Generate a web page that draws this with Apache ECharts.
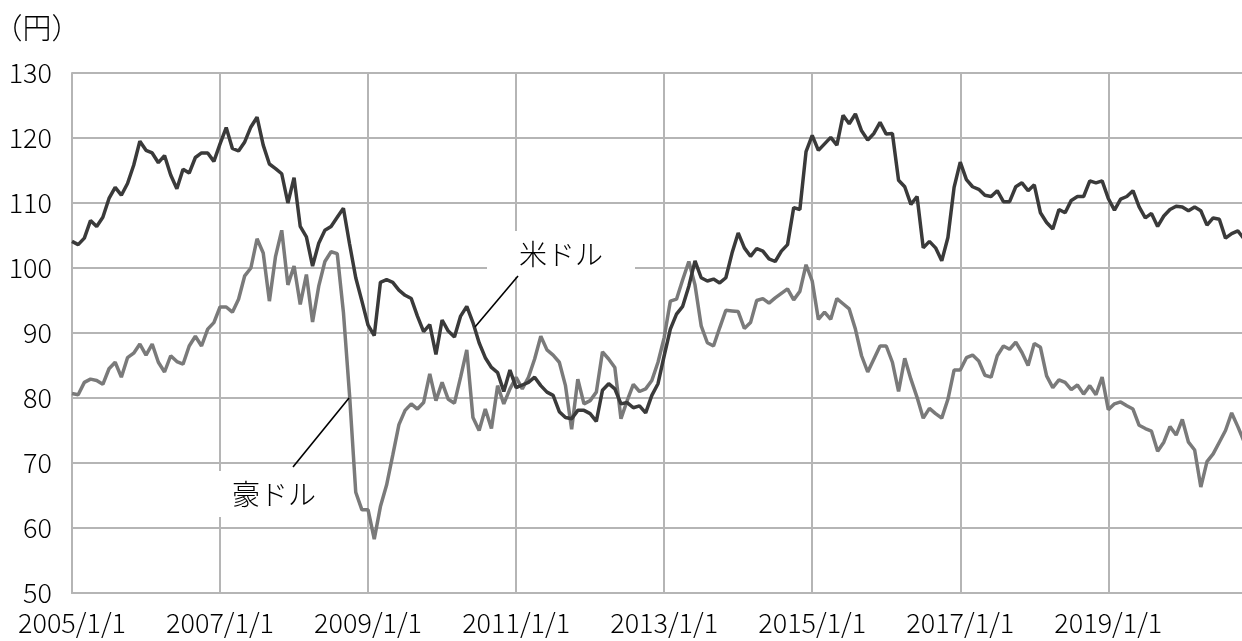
<!DOCTYPE html>
<html>
<head>
<meta charset="utf-8">
<script src="https://cdn.jsdelivr.net/npm/echarts@6/dist/echarts.min.js"></script>
<style>
  html, body { margin: 0; padding: 0; background: #fff; }
  #chart { width: 1242px; height: 641px; }
</style>
</head>
<body>
<div id="chart"></div>
<script>
// 月初値 2005/1 - 2020/11（円）
const usd = [
  104.1, 103.6, 104.6, 107.3, 106.4, 107.8, 110.7, 112.4, 111.2, 113.0, 115.8, 119.5,
  118.1, 117.7, 116.2, 117.3, 114.3, 112.2, 115.2, 114.6, 117.0, 117.7, 117.7, 116.4,
  119.1, 121.6, 118.4, 118.0, 119.4, 121.7, 123.2, 118.9, 116.0, 115.3, 114.5, 110.0,
  113.9, 106.4, 104.8, 100.3, 103.8, 105.8, 106.4, 107.8, 109.2, 103.7, 98.5, 94.9,
  91.2, 89.6, 97.8, 98.2, 97.8, 96.6, 95.8, 95.3, 92.6, 90.2, 91.3, 86.7,
  92.0, 90.3, 89.4, 92.6, 94.1, 91.6, 88.5, 86.2, 84.7, 83.9, 81.0, 84.3,
  81.6, 82.0, 82.4, 83.2, 81.9, 80.9, 80.4, 77.9, 77.0, 76.8, 78.1, 78.1,
  77.6, 76.4, 81.2, 82.2, 81.4, 79.1, 79.3, 78.5, 78.8, 77.7, 80.4, 82.2,
  86.5, 90.6, 92.9, 94.1, 97.2, 101.1, 98.5, 98.0, 98.3, 97.7, 98.5, 102.3,
  105.4, 103.1, 101.8, 103.0, 102.6, 101.4, 101.0, 102.6, 103.6, 109.3, 109.0, 117.9,
  120.4, 118.1, 119.1, 120.1, 118.9, 123.5, 122.2, 123.7, 121.1, 119.7, 120.7, 122.4,
  120.6, 120.7, 113.5, 112.5, 109.8, 111.0, 103.1, 104.1, 103.1, 101.1, 104.7, 112.4,
  116.3, 113.6, 112.5, 112.1, 111.2, 111.0, 111.9, 110.2, 110.2, 112.5, 113.1, 111.9,
  112.8, 108.5, 107.0, 106.0, 109.0, 108.5, 110.4, 111.0, 111.0, 113.4, 113.1, 113.4,
  110.7, 108.9, 110.6, 111.0, 111.9, 109.4, 107.7, 108.4, 106.4, 108.0, 109.0, 109.5,
  109.4, 108.8, 109.4, 108.8, 106.6, 107.7, 107.5, 104.6, 105.3, 105.7, 104.5
]
const aud = [
  80.7, 80.5, 82.4, 82.9, 82.7, 82.1, 84.5, 85.5, 83.2, 86.2, 86.9, 88.3,
  86.6, 88.3, 85.5, 84.0, 86.5, 85.6, 85.2, 88.0, 89.5, 88.0, 90.6, 91.6,
  94.0, 94.0, 93.2, 95.2, 98.8, 100.0, 104.5, 102.3, 94.9, 101.8, 105.8, 97.4,
  100.3, 94.4, 99.0, 91.7, 97.2, 101.0, 102.5, 102.2, 93.2, 80.4, 65.5, 62.8,
  62.8, 58.3, 63.3, 66.6, 71.2, 75.9, 78.1, 79.1, 78.3, 79.3, 83.7, 79.6,
  82.4, 79.8, 79.2, 83.2, 87.4, 77.0, 75.0, 78.3, 75.3, 81.9, 79.1, 81.4,
  83.2, 81.4, 83.2, 86.0, 89.5, 87.4, 86.6, 85.5, 81.9, 75.2, 82.9, 79.1,
  79.6, 80.9, 87.1, 86.0, 84.7, 76.8, 79.6, 82.1, 81.0, 81.4, 82.7, 85.5,
  89.3, 94.9, 95.2, 98.2, 101.0, 97.4, 91.1, 88.5, 88.0, 90.8, 93.5, 93.4,
  93.3, 90.7, 91.6, 95.0, 95.3, 94.6, 95.4, 96.1, 96.8, 95.1, 96.4, 100.5,
  98.0, 92.1, 93.2, 92.1, 95.3, 94.5, 93.7, 90.6, 86.5, 84.0, 86.0, 88.0,
  88.0, 85.5, 81.0, 86.1, 82.9, 80.1, 76.9, 78.4, 77.6, 76.9, 79.8, 84.3,
  84.3, 86.2, 86.6, 85.7, 83.5, 83.2, 86.5, 88.0, 87.5, 88.6, 87.0, 85.0,
  88.4, 87.8, 83.4, 81.6, 82.8, 82.4, 81.3, 82.0, 80.6, 81.9, 80.5, 83.2,
  78.2, 79.1, 79.4, 78.8, 78.3, 75.8, 75.3, 74.9, 71.8, 73.2, 75.6, 74.3,
  76.7, 73.2, 72.0, 66.3, 70.2, 71.4, 73.2, 75.0, 77.7, 75.6, 73.3
]
const yTicks = { min: 50, max: 130, step: 10 }
const legend = ['米ドル', '豪ドル']

// カテゴリ（日付）
const months = []
for (let i = 0; i < usd.length; i++) {
  const y = 2005 + Math.floor(i / 12)
  const m = (i % 12) + 1
  months.push(y + '/' + m + '/1')
}

const font = '"Noto Sans CJK JP", "Noto Sans", sans-serif'
const gridColor = '#b5b5b5'

const chart = echarts.init(document.getElementById('chart'))

let option = {
  animation: false,
  backgroundColor: '#fff',
  textStyle: { fontFamily: font, fontWeight: 300 },
  grid: {
    left: 72,
    right: -2,
    top: 73,
    bottom: 48,
    outerBoundsMode: 'none'
  },
  xAxis: {
    type: 'category',
    data: months,
    boundaryGap: false,
    axisLine: {
      show: true,
      lineStyle: { color: gridColor, width: 2 }
    },
    axisTick: { show: false },
    axisLabel: {
      interval: 23,
      color: '#000',
      fontSize: 27,
      fontWeight: 300,
      fontFamily: font,
      margin: 16
    },
    splitLine: {
      show: true,
      interval: 23,
      lineStyle: { color: gridColor, width: 2 }
    }
  },
  yAxis: {
    type: 'value',
    min: yTicks.min,
    max: yTicks.max,
    interval: yTicks.step,
    axisLine: {
      show: true,
      lineStyle: { color: gridColor, width: 2 }
    },
    axisTick: { show: false },
    axisLabel: {
      color: '#000',
      fontSize: 27,
      fontWeight: 300,
      fontFamily: font,
      margin: 20
    },
    splitLine: {
      show: true,
      lineStyle: { color: gridColor, width: 2 }
    }
  },
  series: [
    {
      name: legend[1],
      type: 'line',
      data: aud,
      symbol: 'none',
      lineStyle: { color: '#7a7a7a', width: 3.5 },
      z: 2
    },
    {
      name: legend[0],
      type: 'line',
      data: usd,
      symbol: 'none',
      lineStyle: { color: '#3a3a3a', width: 3.5 },
      z: 3
    }
  ],
  graphic: [
    {
      type: 'text',
      x: 37, y: 28,
      style: {
        text: '（円）', font: '300 29px ' + font, fill: '#000',
        align: 'center', verticalAlign: 'middle'
      }
    },
    // 米ドル ラベル
    {
      type: 'text',
      x: 561, y: 254, z: 10,
      style: {
        text: legend[0], font: '300 28px ' + font, fill: '#000',
        align: 'center', verticalAlign: 'middle',
        backgroundColor: '#fff', padding: [8, 32, 10, 32]
      }
    },
    {
      type: 'line', z: 10,
      shape: { x1: 518, y1: 276, x2: 475, y2: 327 },
      style: { stroke: '#000', lineWidth: 1.6 }
    },
    // 豪ドル ラベル
    {
      type: 'text',
      x: 274, y: 494, z: 10,
      style: {
        text: legend[1], font: '300 28px ' + font, fill: '#000',
        align: 'center', verticalAlign: 'middle',
        backgroundColor: '#fff', padding: [8, 26, 10, 26]
      }
    },
    {
      type: 'line', z: 10,
      shape: { x1: 293, y1: 467, x2: 349, y2: 398 },
      style: { stroke: '#000', lineWidth: 1.6 }
    }
  ]
}

chart.setOption(option)
</script>
</body>
</html>
